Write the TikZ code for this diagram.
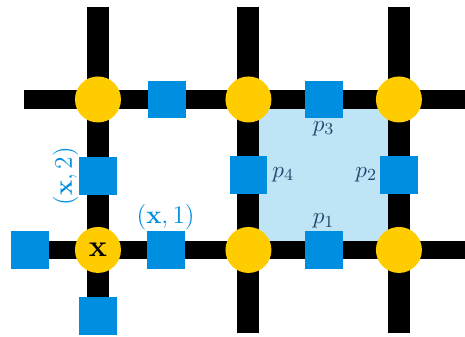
\documentclass[tikz,border=0pt]{standalone}
\usepackage{amsmath}
\usetikzlibrary{positioning}

\definecolor{siteyellow}{RGB}{255,204,0}
\definecolor{linkblue}{RGB}{0,143,224}
\definecolor{plaqblue}{RGB}{190,228,245}
\definecolor{plaqtext}{RGB}{35,70,110}

\tikzset{
  site/.style={circle, fill=siteyellow, minimum size=0.764cm, inner sep=0pt},
  link/.style={rectangle, fill=linkblue, minimum size=0.626cm, inner sep=0pt},
  hbond/.style={line width=8.7pt},
  vbond/.style={line width=10.4pt},
  linklabel/.style={text=linkblue, inner sep=0pt, font=\large},
  plaqlabel/.style={text=plaqtext, inner sep=1pt, font=\fontsize{11}{13}\selectfont}
}

\begin{document}
\begin{tikzpicture}[x=2.5cm, y=2.5cm]

    \useasboundingbox (-0.651,-0.578) rectangle (2.439,1.661);

    % the plaquette
    \fill[plaqblue] (1,0) rectangle (2,1);

    % lattice bonds
    \foreach \x in {0,1,2}
        \draw[vbond] (\x,-0.55) -- (\x,1.615);
    \draw[hbond] (-0.49,1) -- (2.45,1);
    \draw[hbond] (-0.45,0) -- (2.45,0);

    % sites
    \node[site, font=\Large] (sx) at (0,0) {$\mathbf{x}$};
    \foreach \x/\y in {1/0, 2/0, 0/1, 1/1, 2/1}
        \node[site] (s\x\y) at (\x,\y) {};

    % links
    \node[link] (xone) at (0.45,0) {};
    \node[link] (xtwo) at (0,0.49) {};
    \node[link] (xleft) at (-0.45,0) {};
    \node[link] (xdown) at (0,-0.44) {};
    \node[link] (topleft) at (0.46,1) {};
    \node[link] (pone) at (1.5,0) {};
    \node[link] (ptwo) at (2,0.5) {};
    \node[link] (pthree) at (1.5,1) {};
    \node[link] (pfour) at (1,0.5) {};

    % labels
    \node[linklabel, above=0pt of xone] {$(\mathbf{x},1)$};
    \node[linklabel, rotate=90, anchor=south] at (xtwo.west) {$(\mathbf{x},2)$};
    \node[plaqlabel, above=0pt of pone] {$p_1$};
    \node[plaqlabel, left=0pt of ptwo] {$p_2$};
    \node[plaqlabel, below=0pt of pthree] {$p_3$};
    \node[plaqlabel, right=1pt of pfour] {$p_4$};

\end{tikzpicture}
\end{document}
